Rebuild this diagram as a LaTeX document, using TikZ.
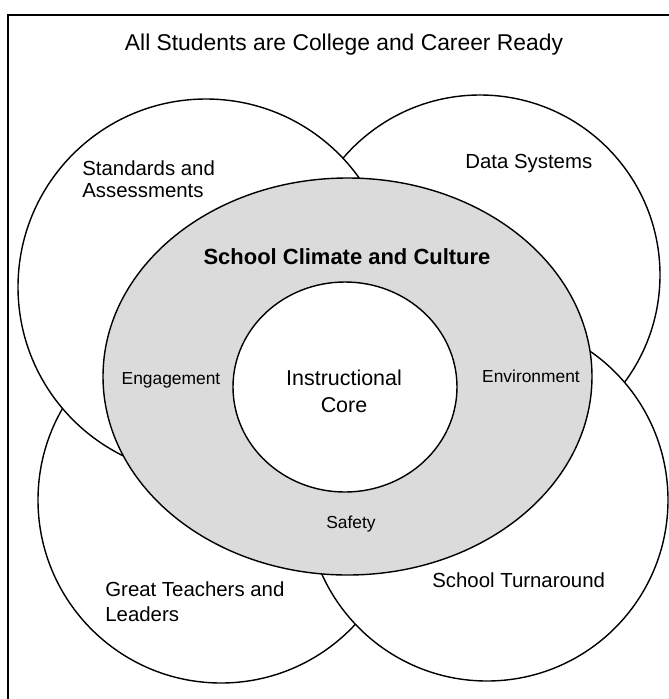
\documentclass[tikz,border=0pt]{standalone}
\usepackage{fontspec}
\setmainfont{Liberation Sans}
\usepackage{tikz}
\usepackage{amsmath}

\begin{document}
\begin{tikzpicture}[scale=0.2,
  region/.style={draw=black, fill=white, line width=0.8pt},
  climatefill/.style={draw=black, fill=black!14, line width=0.8pt},
  biglabel/.style={font=\fontsize{11.6}{13}\selectfont, align=left, anchor=west}]
\tikzstyle{every node}+=[inner sep=0pt]
\useasboundingbox (0,0) rectangle (66.9,-69.9);
\draw [black, line width=1.1pt] (0.8,-69.9) -- (0.8,-1.5) -- (66.9,-1.5);
\draw [region] (48.0,-27.5) circle (18.0);
\draw [region] (22.1,-50.0) circle (18.3);
\draw [region] (20.6,-28.7) circle (18.8);
\draw [region] (48.7,-50.0) circle (18.1);
\draw [climatefill] (34.75,-37.65) ellipse (24.45 and 19.85);
\draw [region] (34.5,-38.7) ellipse (11.2 and 10.5);
\draw (34.4,-4.5) node (title) [font=\fontsize{13}{15}\selectfont] {All Students are College and Career Ready};
\draw (8.2,-17.9) node (stds) [biglabel, font=\fontsize{11.6}{12.5}\selectfont] {Standards and\\Assessments};
\draw (46.5,-16.3) node (data) [biglabel] {Data Systems};
\draw (10.5,-60.2) node (teach) [biglabel, font=\fontsize{11.6}{14.2}\selectfont] {Great Teachers and\\Leaders};
\draw (43.2,-58.0) node (turn) [biglabel] {School Turnaround};
\draw (34.7,-25.7) node (climate) [font=\bfseries\fontsize{12.5}{14}\selectfont] {School Climate and Culture};
\draw (17.1,-38.0) node (engage) [font=\fontsize{9.9}{11}\selectfont] {Engagement};
\draw (53.1,-37.6) node (environ) [font=\fontsize{9.9}{11}\selectfont] {Environment};
\draw (34.4,-39.15) node (core) [align=center, font=\fontsize{12.2}{15.3}\selectfont] {Instructional\\Core};
\draw (35.1,-52.4) node (safety) [font=\fontsize{9.9}{11}\selectfont] {Safety};
\end{tikzpicture}
\end{document}
